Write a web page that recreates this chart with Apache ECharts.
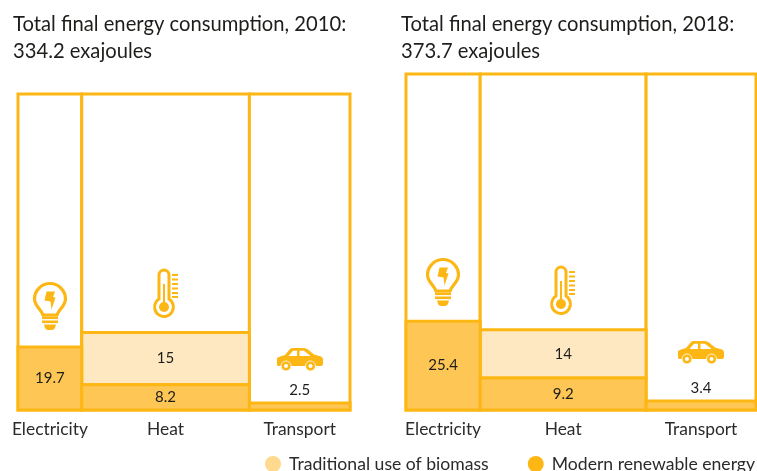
<!DOCTYPE html>
<html>
<head>
<meta charset="utf-8">
<style>html,body{margin:0;padding:0;background:#fff;overflow:hidden}#c{width:757px;height:471px}</style>
<script src="https://cdn.jsdelivr.net/npm/echarts@6/dist/echarts.min.js"></script>
</head>
<body>
<div id="c"></div>
<script>
const categories = ['Electricity', 'Heat', 'Transport'];
const columnShares2010 = [19.2, 50.5, 30.3];
const columnShares2018 = [21.2, 47.4, 31.4];
// printed values
const modernLabels2010 = [19.7, 8.2, 2.5];
const biomassLabels2010 = [null, 15, null];
const modernLabels2018 = [25.4, 9.2, 3.4];
const biomassLabels2018 = [null, 14, null];
// heights of the bands as drawn in the picture
const modernHeights2010 = [19.9, 8.0, 2.2];
const biomassHeights2010 = [0, 16.5, 0];
const modernHeights2018 = [26.4, 9.5, 2.7];
const biomassHeights2018 = [0, 14.4, 0];
const titles = ['Total final energy consumption, 2010:\n334.2 exajoules', 'Total final energy consumption, 2018:\n373.7 exajoules'];
const legendNames = ['Traditional use of biomass', 'Modern renewable energy'];

const FONT = 'Lato';
const LINE = '#FDB714';
const MODERN_FILL = '#FEC655';
const BIOMASS_FILL = '#FEE8C2';
const LEGEND_BIOMASS = '#FED98E';
const TEXT = '#1d1d1b';

function edges(shares) {
  const out = [0];
  shares.forEach(s => out.push(out[out.length - 1] + s));
  return out;
}
function centers(shares) {
  const e = edges(shares);
  return shares.map((s, i) => e[i] + s / 2);
}
function band(fill) {
  return function (params, api) {
    const p0 = api.coord([api.value(0), api.value(2)]);
    const p1 = api.coord([api.value(1), api.value(3)]);
    const x = p0[0], y = p1[1], w = p1[0] - p0[0], h = p0[1] - p1[1];
    const label = api.value(4);
    const children = [{
      type: 'rect',
      shape: { x, y, width: w, height: h },
      style: { fill, stroke: LINE, lineWidth: 3 }
    }];
    if (label !== '' && !isNaN(label)) {
      children.push({
        type: 'text',
        style: {
          x: x + w / 2,
          y: h < 20 ? y - 13 : y + h / 2,
          text: String(label),
          fill: TEXT,
          font: '15px ' + FONT,
          align: 'center',
          verticalAlign: 'middle'
        }
      });
    }
    return { type: 'group', children };
  };
}
function rows(shares, heights, base, labels) {
  const e = edges(shares);
  const out = [];
  shares.forEach((s, i) => {
    if (heights[i] > 0) {
      const b = base ? base[i] : 0;
      out.push([e[i], e[i + 1], b, b + heights[i], labels[i] === null ? '' : labels[i]]);
    }
  });
  return out;
}
function panelSeries(k, shares, modern, biomass, modernLab, biomassLab, icons) {
  const common = { type: 'custom', xAxisIndex: k, yAxisIndex: k, encode: { x: [0, 1], y: [2, 3] }, clip: false };
  const e = edges(shares);
  return [
    Object.assign({}, common, {
      name: 'frame' + k,
      z: 1,
      renderItem: band('#fff'),
      data: shares.map((s, i) => [e[i], e[i + 1], 0, 100, ''])
    }),
    Object.assign({}, common, {
      name: legendNames[0],
      z: 2,
      itemStyle: { color: LEGEND_BIOMASS },
      renderItem: band(BIOMASS_FILL),
      data: rows(shares, biomass, modern, biomassLab)
    }),
    Object.assign({}, common, {
      name: legendNames[1],
      z: 3,
      itemStyle: { color: LINE },
      renderItem: band(MODERN_FILL),
      data: rows(shares, modern, null, modernLab)
    }),
    Object.assign({}, common, {
      name: 'icons' + k,
      z: 4,
      silent: true,
      renderItem: () => ({ type: 'group', children: icons }),
      data: [[0, 0, 0, 0, '']]
    })
  ];
}
function xAxis(k, shares) {
  const c = centers(shares);
  return {
    type: 'value', gridIndex: k, min: 0, max: 100,
    axisLine: { show: false }, axisTick: { show: false }, splitLine: { show: false },
    axisLabel: {
      customValues: c,
      hideOverlap: false,
      showMinLabel: true,
      showMaxLabel: true,
      margin: 11,
      fontFamily: FONT,
      fontSize: 17.4,
      color: '#2b2b2b',
      formatter: v => categories[c.findIndex(x => Math.abs(x - v) < 0.01)]
    }
  };
}
function yAxis(k) {
  return { type: 'value', gridIndex: k, min: 0, max: 100, show: false };
}

/* pictograms */
function bulb(x, y) {
  return {
    type: 'group', x, y, children: [
      { type: 'path', shape: { pathData: 'M10 33 C8 27 1.5 24 1.5 17 A15.5 15.5 0 1 1 32.5 17 C32.5 24 26 27 24 33 Z' }, style: { fill: '#fff', stroke: LINE, lineWidth: 3.2 } },
      { type: 'path', shape: { pathData: 'M13.5 9.5 L22 9.5 L20 15 L22.5 15.5 L18.5 27.5 L17.5 19.5 L11.5 18.5 Z' }, style: { fill: LINE } },
      { type: 'rect', shape: { x: 9, y: 34.5, width: 16, height: 2.6 }, style: { fill: LINE } },
      { type: 'rect', shape: { x: 9, y: 38.5, width: 16, height: 2.6 }, style: { fill: LINE } },
      { type: 'path', shape: { pathData: 'M11 42.5 L23 42.5 L22 46 Q21 48 19 48 L15 48 Q13 48 12 46 Z' }, style: { fill: LINE } }
    ]
  };
}
function thermometer(x, y) {
  const ticks = [5, 9.5, 14, 18.5, 23, 27].map(t => ({ type: 'rect', shape: { x: 18, y: t, width: 6, height: 2 }, style: { fill: LINE } }));
  return {
    type: 'group', x, y, children: [
      { type: 'path', shape: { pathData: 'M5 30 L5 6 A5 5 0 0 1 15 6 L15 30 A9.43 9.43 0 1 1 5 30 Z' }, style: { fill: '#fff', stroke: LINE, lineWidth: 3 } },
      { type: 'rect', shape: { x: 9, y: 15, width: 2, height: 20 }, style: { fill: LINE } },
      { type: 'circle', shape: { cx: 10, cy: 38, r: 5 }, style: { fill: LINE } }
    ].concat(ticks)
  };
}
function car(x, y) {
  return {
    type: 'group', x, y, children: [
      { type: 'path', shape: { pathData: 'M1 18 L0 17 L0 10 L3 8.5 L8 7 L13 1 Q14 0 16 0 L27 0 Q29 0 31 1.5 L37 6.5 L44 8.5 Q46 9.5 46 11 L46 16 Q46 18 44 18 Z' }, style: { fill: LINE } },
      { type: 'path', shape: { pathData: 'M11.5 8 L16 2.8 L20 2.8 L20 8 Z' }, style: { fill: '#fff' } },
      { type: 'path', shape: { pathData: 'M22.5 2.8 L27 2.8 L33 7.5 L33 8 L22.5 8 Z' }, style: { fill: '#fff' } },
      { type: 'circle', shape: { cx: 9, cy: 18, r: 5 }, style: { fill: LINE, stroke: '#fff', lineWidth: 0.8 } },
      { type: 'circle', shape: { cx: 9, cy: 18, r: 2 }, style: { fill: '#fff' } },
      { type: 'circle', shape: { cx: 33.5, cy: 18, r: 5 }, style: { fill: LINE, stroke: '#fff', lineWidth: 0.8 } },
      { type: 'circle', shape: { cx: 33.5, cy: 18, r: 2 }, style: { fill: '#fff' } }
    ]
  };
}

const chart = echarts.init(document.getElementById('c'), null, { renderer: 'canvas' });
chart.setOption({
  animation: false,
  backgroundColor: '#fff',
  title: [
    { text: titles[0], left: 13, top: 11 },
    { text: titles[1], left: 401, top: 11 }
  ].map(t => Object.assign(t, { padding: 0, textStyle: { fontFamily: FONT, fontSize: 20.2, fontWeight: 400, color: TEXT, lineHeight: 27 } })),
  grid: [
    { left: 18, top: 94, width: 332, height: 316 },
    { left: 406, top: 74, width: 350, height: 336 }
  ],
  xAxis: [xAxis(0, columnShares2010), xAxis(1, columnShares2018)],
  yAxis: [yAxis(0), yAxis(1)],
  legend: {
    left: 265, top: 455, padding: 0,
    itemWidth: 16, itemHeight: 16, itemGap: 39, icon: 'circle',
    data: legendNames,
    selectedMode: false,
    textStyle: { fontFamily: FONT, fontSize: 17.6, color: '#2b2b2b', padding: [0, 0, 0, 3] }
  },
  tooltip: { show: false },
  series: panelSeries(0, columnShares2010, modernHeights2010, biomassHeights2010, modernLabels2010, biomassLabels2010, [bulb(33, 282), thermometer(154, 269), car(277, 348)])
    .concat(panelSeries(1, columnShares2018, modernHeights2018, biomassHeights2018, modernLabels2018, biomassLabels2018, [bulb(426, 258), thermometer(551, 266), car(678, 341)]))
});
</script>
</body>
</html>
